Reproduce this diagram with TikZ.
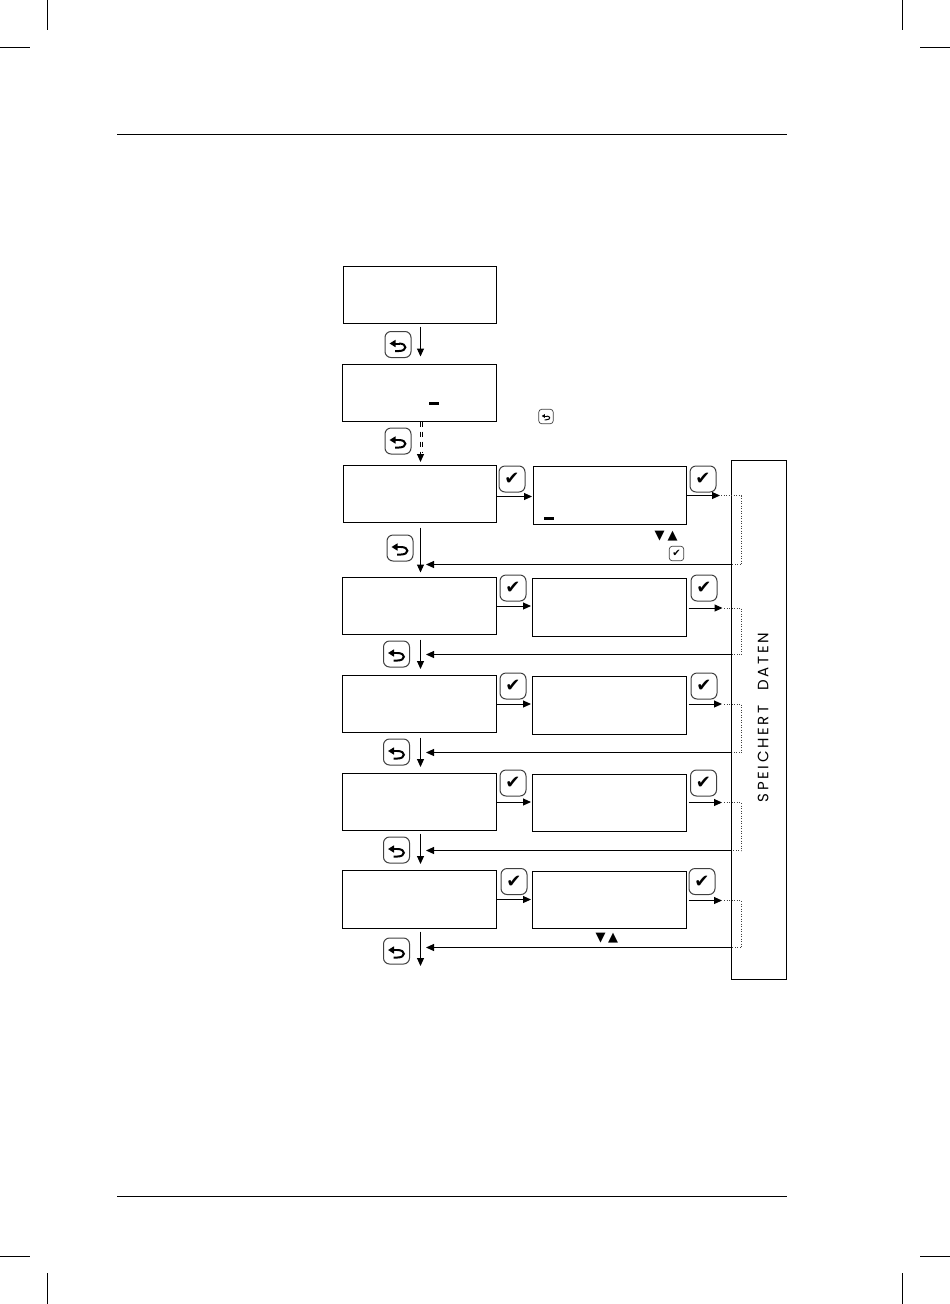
\documentclass[tikz,border=0pt]{standalone}
\usepackage{fontspec}
\usetikzlibrary{arrows.meta}
\newfontfamily\symfont{DejaVu Sans}
\newfontfamily\panelfont[LetterSpace=17]{Poppins}

\tikzset{
    display/.style={draw, line width=1pt, outer sep=0pt, minimum width=154pt, minimum height=#1},
    display/.default=57pt,
    button/.style={draw=black!75, line width=1pt, rounded corners=6pt, minimum size=26pt, inner sep=0pt, outer sep=0pt},
    smallbutton/.style={draw=black!75, line width=.7pt, rounded corners=3pt, minimum size=14.5pt, inner sep=0pt, outer sep=0pt},
    okmark/.style={font=\symfont\fontsize{18}{18}\selectfont},
    smallokmark/.style={font=\symfont\fontsize{10}{10}\selectfont},
    keytri/.style={font=\symfont\fontsize{13}{13}\selectfont, inner sep=0pt},
    cursor/.style={fill=black, minimum width=10pt, minimum height=3pt, inner sep=0pt},
    rule/.style={line width=1pt},
    flow/.style={->, line width=1pt},
    dotline/.style={dotted, line width=.5pt, black!75},
    dashpair/.style={line width=1pt, dash pattern=on 5pt off 5pt},
    pics/backsym/.style={code={
        \draw[line width=#1, -{Triangle[length=3*#1,width=3.5*#1]}] (2,-1) -- (-8.5,-1);
        \draw[line width=#1] (1,-1) .. controls (9.5,-1) and (9.5,6.5) .. (1,6.5) -- (-3,6.5);
    }}
}

\begin{document}
\begin{tikzpicture}[x=1pt, y=-1pt, >={Triangle[length=8pt,width=7pt]}]
    \useasboundingbox (0,0) rectangle (950,1304);

    % page rules and crop marks
    \draw[rule] (117,134.5) -- (787,134.5);
    \draw[rule] (117,1196) -- (787,1196);
    \draw[rule] (47.5,0) -- (47.5,30);
    \draw[rule] (0,47.5) -- (30,47.5);
    \draw[rule] (902.5,0) -- (902.5,30);
    \draw[rule] (920,47.5) -- (950,47.5);
    \draw[rule] (47.5,1273) -- (47.5,1304);
    \draw[rule] (0,1256.5) -- (30,1256.5);
    \draw[rule] (902.5,1273) -- (902.5,1304);
    \draw[rule] (920,1256.5) -- (950,1256.5);

    % displays, left column
    \node[display, minimum width=153pt] (d1) at (420,295) {};
    \node[display] (d2) at (419.5,393) {};
    \node[display, minimum width=153pt] (d3) at (420,494) {};
    \node[display] (d4) at (419.5,606) {};
    \node[display] (d5) at (419.5,704) {};
    \node[display] (d6) at (419.5,802) {};
    \node[display=58pt] (d7) at (419.5,899.5) {};

    % displays, right column
    \node[display=58pt, minimum width=153pt] (e3) at (610,495.5) {};
    \node[display=58pt] (e4) at (609.5,607.5) {};
    \node[display=58pt] (e5) at (609.5,705.5) {};
    \node[display] (e6) at (609.5,803) {};
    \node[display] (e7) at (609.5,900) {};

    \node[draw, line width=1pt, outer sep=0pt, minimum width=55pt, minimum height=519pt] (panel) at (759,720) {};
    \node[rotate=90, font=\panelfont\fontsize{15}{15}\selectfont] (paneltext) at (763,717.5) {SPEICHERT\hspace{9pt} DATEN};

    % cursors
    \node[cursor] (c2) at (433.5,403) {};
    \node[cursor] (c3) at (548.5,518.5) {};

    % back keys
    \node[button] (b1) at (398,344.5) {};
    \node[button] (b2) at (398,441) {};
    \node[button] (b3) at (400,548) {};
    \node[button] (b4) at (396.5,654) {};
    \node[button] (b5) at (396.5,752) {};
    \node[button] (b6) at (396.5,850) {};
    \node[button] (b7) at (396.5,951) {};
    \foreach \k in {b1,b2,b3,b4,b5,b6,b7} \pic at (\k) {backsym=2pt};
    \node[smallbutton] (bs) at (546,416.5) {};
    \pic[scale=.5] at (bs) {backsym=1pt};

    % check keys
    \node[button, okmark] (l3) at (512,479) {\char"2714};
    \node[button, okmark] (l4) at (513,588) {\char"2714};
    \node[button, okmark] (l5) at (513,686) {\char"2714};
    \node[button, okmark] (l6) at (513,783) {\char"2714};
    \node[button, okmark] (l7) at (514,881.5) {\char"2714};
    \node[button, okmark] (r3) at (703,479) {\char"2714};
    \node[button, okmark] (r4) at (704,588) {\char"2714};
    \node[button, okmark] (r5) at (704,686) {\char"2714};
    \node[button, okmark] (r6) at (703.5,783) {\char"2714};
    \node[button, okmark] (r7) at (702,881.5) {\char"2714};
    \node[smallbutton, smallokmark] (ls) at (676.5,553.5) {\char"2714};

    % up and down keys
    \node[keytri] (t1) at (659.5,536.5) {\char"25BC};
    \node[keytri] (t2) at (672.5,536.5) {\char"25B2};
    \node[keytri] (t3) at (600.5,938.5) {\char"25BC};
    \node[keytri] (t4) at (613,938.5) {\char"25B2};

    % down the left column
    \coordinate (spine) at (420.5,0);
    \coordinate (dashend) at (420.5,452);
    \coordinate (end7) at (420.5,966);
    \draw[flow, shorten <=3pt, shorten >=8pt] (spine |- d1.south) -- (spine |- d2.north);
    \draw[dashpair] ([xshift=.5pt]d2.south) -- ([xshift=-.5pt]dashend);
    \draw[dashpair] ([xshift=2.5pt]d2.south) -- ([xshift=1.5pt]dashend);
    \draw[flow, shorten >=3.5pt] (dashend) -- (spine |- d3.north);
    \draw[flow, shorten <=5pt, shorten >=5pt] (spine |- d3.south) -- (spine |- d4.north);
    \draw[flow, shorten <=5pt, shorten >=6.5pt] (spine |- d4.south) -- (spine |- d5.north);
    \draw[flow, shorten <=5pt, shorten >=6.5pt] (spine |- d5.south) -- (spine |- d6.north);
    \draw[flow, shorten <=3pt, shorten >=6.5pt] (spine |- d6.south) -- (spine |- d7.north);
    \draw[flow, shorten <=3pt] (spine |- d7.south) -- (end7);

    % junctions beside the panel
    \coordinate (j3) at (741,495.5);
    \coordinate (j4) at (741,608);
    \coordinate (j5) at (741,704);
    \coordinate (j6) at (741,802.5);
    \coordinate (j7) at (741,900.5);
    \coordinate (k3) at (741,564.5);
    \coordinate (k4) at (741,654.5);
    \coordinate (k5) at (741,752.5);
    \coordinate (k6) at (741,850.5);
    \coordinate (k7) at (741,947.5);

    % across to the right column
    \draw[flow, shorten >=1.5pt] ([yshift=-2.5pt]d3.east) -- ([yshift=-2.5pt]d3.east -| e3.west);
    \draw[flow, shorten >=1.5pt] (d4.east) -- (d4.east -| e4.west);
    \draw[flow, shorten >=1.5pt] (d5.east) -- (d5.east -| e5.west);
    \draw[flow, shorten >=1.5pt] (d6.east) -- (d6.east -| e6.west);
    \draw[flow, shorten >=1.5pt] (d7.east) -- (d7.east -| e7.west);

    % towards the panel
    \draw[flow, shorten >=21pt] (e3.east |- j3) -- (j3);
    \draw[flow, shorten <=2pt, shorten >=18.5pt] (e4.east |- j4) -- (j4);
    \draw[flow, shorten <=2pt, shorten >=19pt] (e5.east |- j5) -- (j5);
    \draw[flow, shorten <=2pt, shorten >=19pt] (e6.east |- j6) -- (j6);
    \draw[flow, shorten <=2pt, shorten >=19pt] (e7.east |- j7) -- (j7);

    % dotted path inside the panel
    \draw[dotline] ([xshift=-20pt]j3) -- (j3) -- (k3) -- (panel.west |- k3);
    \draw[dotline] ([xshift=-17pt]j4) -- (j4) -- (k4) -- (panel.west |- k4);
    \draw[dotline] ([xshift=-17pt]j5) -- (j5) -- (k5) -- (panel.west |- k5);
    \draw[dotline] ([xshift=-17pt]j6) -- (j6) -- (k6) -- (panel.west |- k6);
    \draw[dotline] ([xshift=-17pt]j7) -- (j7) -- (k7) -- (panel.west |- k7);

    % back from the panel
    \draw[flow, shorten >=5.5pt] (panel.west |- k3) -- (spine |- k3);
    \draw[flow, shorten >=5.5pt] (panel.west |- k4) -- (spine |- k4);
    \draw[flow, shorten >=5.5pt] (panel.west |- k5) -- (spine |- k5);
    \draw[flow, shorten >=5.5pt] (panel.west |- k6) -- (spine |- k6);
    \draw[flow, shorten >=5.5pt] (panel.west |- k7) -- (spine |- k7);
\end{tikzpicture}
\end{document}
